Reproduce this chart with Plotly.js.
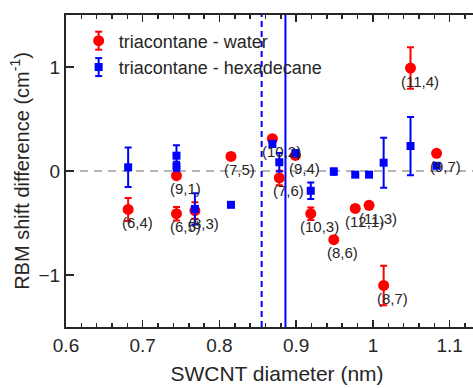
<!DOCTYPE html>
<html>
<head>
<meta charset="utf-8">
<script src="https://cdn.plot.ly/plotly-3.0.1.min.js"></script>
<style>
  html, body { margin: 0; padding: 0; overflow: hidden; background: #fff; }
  #chart { width: 490px; height: 388px; }
</style>
</head>
<body>
<div id="chart"></div>
<script>
// Chirality labels and nanotube diameters (nm)
const chirality = ['(6,4)', '(9,1)', '(6,5)', '(8,3)', '(7,5)', '(10,2)', '(7,6)', '(9,4)',
                   '(10,3)', '(8,6)', '(12,1)', '(11,3)', '(8,7)', '(11,4)', '(9,7)'];
const diameter = [0.681, 0.744, 0.744, 0.768, 0.815, 0.869, 0.878, 0.899,
                  0.919, 0.949, 0.977, 0.995, 1.014, 1.049, 1.083];

// triacontane - water: RBM shift difference and uncertainty (cm^-1)
const waterShift = [-0.37, -0.045, -0.41, -0.38, 0.14, 0.31, -0.067, 0.15,
                    -0.41, -0.66, -0.36, -0.33, -1.10, 0.99, 0.17];
const waterErr   = [0.11, 0.03, 0.065, 0.08, 0.03, 0.03, 0.07, 0.03,
                    0.06, 0.03, 0.03, 0.03, 0.19, 0.20, 0.03];

// triacontane - hexadecane: RBM shift difference and uncertainty (cm^-1)
const hexShift = [0.035, 0.147, 0.045, -0.365, -0.325, 0.26, 0.084, 0.17,
                  -0.19, -0.005, -0.035, -0.035, 0.08, 0.24, 0.05];
const hexErr   = [0.19, 0.10, 0.045, 0.15, 0.02, 0.03, 0.09, 0.03,
                  0.08, 0.03, 0.02, 0.02, 0.24, 0.28, 0.02];

// Reference diameters marked by vertical lines (nm)
const refDashed = 0.855;
const refSolid = 0.886;

const RED = '#ff0000';
const BLUE = '#0000ff';
const INK = '#262626';
const FONT = 'Liberation Sans, Arial, sans-serif';

// Plot box in pixels (used to place the error-bar glyphs beside the legend markers)
const W = 490, H = 388;
const M = { l: 66, r: 2, t: 15, b: 61 };
const plotW = W - M.l - M.r, plotH = H - M.t - M.b;
const px2x = px => (px - M.l) / plotW;
const py2y = py => (H - M.b - py) / plotH;

const traces = [
  {
    name: 'triacontane - water',
    x: diameter, y: waterShift,
    type: 'scatter', mode: 'markers',
    marker: { color: RED, size: 11, symbol: 'circle' },
    error_y: { type: 'data', array: waterErr, visible: true, color: RED, thickness: 2, width: 3.5 }
  },
  {
    name: 'triacontane - hexadecane',
    x: diameter, y: hexShift,
    type: 'scatter', mode: 'markers',
    marker: { color: BLUE, size: 8, symbol: 'square' },
    error_y: { type: 'data', array: hexErr, visible: true, color: BLUE, thickness: 2, width: 3.5 }
  }
];

const annotations = chirality.map((t, i) => ({
  x: diameter[i], y: waterShift[i], xref: 'x', yref: 'y',
  text: t, showarrow: false, xshift: 9, yshift: -13,
  font: { family: FONT, size: 15, color: INK }
}));

const shapes = [
  { type: 'line', xref: 'paper', yref: 'y', x0: 0, x1: 1, y0: 0, y1: 0,
    line: { color: '#b4b4b4', width: 2, dash: '8px,6px' }, layer: 'below' },
  { type: 'line', xref: 'x', yref: 'paper', x0: refDashed, x1: refDashed, y0: 0, y1: 1,
    line: { color: BLUE, width: 2, dash: '6px,4px' }, layer: 'below' },
  { type: 'line', xref: 'x', yref: 'paper', x0: refSolid, x1: refSolid, y0: 0, y1: 1,
    line: { color: BLUE, width: 2 }, layer: 'below' }
];

// Error-bar glyphs next to the legend markers
function legendBar(cx, cy, color) {
  const half = 9, cap = 3.5;
  const seg = (x0, y0, x1, y1) => ({
    type: 'line', xref: 'paper', yref: 'paper',
    x0: px2x(x0), x1: px2x(x1), y0: py2y(y0), y1: py2y(y1),
    line: { color: color, width: 2 }, layer: 'above'
  });
  return [
    seg(cx, cy - half, cx, cy + half),
    seg(cx - cap, cy - half, cx + cap, cy - half),
    seg(cx - cap, cy + half, cx + cap, cy + half)
  ];
}

const layout = {
  width: W, height: H,
  margin: M,
  paper_bgcolor: '#fff', plot_bgcolor: '#fff',
  font: { family: FONT, color: INK, size: 19 },
  showlegend: true,
  legend: {
    x: 0.03, y: 0.976, xanchor: 'left', yanchor: 'top',
    bgcolor: 'rgba(255,255,255,0)', borderwidth: 0,
    font: { family: FONT, size: 18, color: INK },
    tracegroupgap: 0
  },
  xaxis: {
    range: [0.6, 1.15],
    tickvals: [0.6, 0.7, 0.8, 0.9, 1.0, 1.1],
    ticktext: ['0.6', '0.7', '0.8', '0.9', '1', '1.1'],
    ticks: 'inside', ticklen: 7, tickwidth: 1.5, tickcolor: INK,
    minor: { dtick: 0.02, tick0: 0.6, ticks: 'inside', ticklen: 4, tickwidth: 1.5, tickcolor: INK },
    showline: true, linecolor: INK, linewidth: 2, mirror: 'ticks',
    showgrid: false, zeroline: false,
    tickfont: { family: FONT, size: 19, color: INK },
    title: { text: 'SWCNT diameter (nm)', font: { family: FONT, size: 21, color: INK }, standoff: 12 }
  },
  yaxis: {
    range: [-1.5, 1.5],
    tickvals: [-1, 0, 1],
    ticks: 'inside', ticklen: 8, tickwidth: 1.5, tickcolor: INK,
    showline: true, linecolor: INK, linewidth: 2, mirror: 'ticks',
    showgrid: false, zeroline: false,
    tickfont: { family: FONT, size: 19, color: INK },
    title: { text: 'RBM shift difference (cm<sup>-1</sup>)', font: { family: FONT, size: 20, color: INK }, standoff: 4 }
  },
  annotations: annotations,
  shapes: shapes
};

Plotly.newPlot('chart', traces, layout, { staticPlot: true, displayModeBar: false }).then(gd => {
  // Place the legend error-bar glyphs on the drawn legend marker centres
  const root = gd.getBoundingClientRect();
  const extra = [];
  const colors = [RED, BLUE];
  gd.querySelectorAll('.legend .traces').forEach((g, i) => {
    const pt = g.querySelector('.scatterpts path, .legendpoints path');
    if (!pt) return;
    const r = pt.getBoundingClientRect();
    extra.push(...legendBar(r.left + r.width / 2 - root.left, r.top + r.height / 2 - root.top, colors[i]));
  });
  if (extra.length) Plotly.relayout(gd, { shapes: shapes.concat(extra) });
});
</script>
</body>
</html>
